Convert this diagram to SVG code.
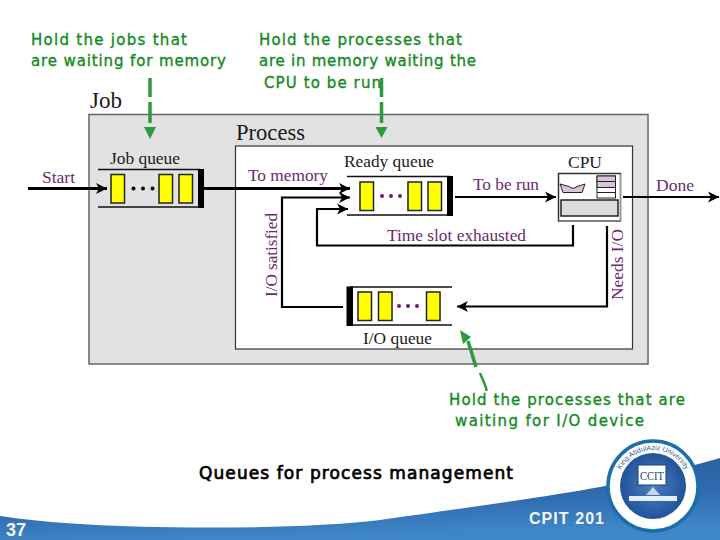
<svg xmlns="http://www.w3.org/2000/svg" width="720" height="540" viewBox="0 0 720 540">
<style>
.note{font-family:"DejaVu Sans","Liberation Sans",sans-serif;font-size:15px;fill:#128a1e;stroke:#128a1e;stroke-width:0.35}
.queues{fill:#000;stroke:#000;stroke-width:0.7;font-size:17px}
.cap{font-family:"Liberation Serif",serif;font-size:16px;fill:#1a1a1a}
.title{font-family:"Liberation Serif",serif;font-size:23px;fill:#1a1a1a}
.lab{font-family:"Liberation Serif",serif;font-size:16px;fill:#6b2a70}
.cell{fill:#ffff00;stroke:#222;stroke-width:1.5}
.rail{stroke:#111;stroke-width:1.5;fill:none}
.bar{fill:#000}
.conn{fill:none;stroke:#000;stroke-width:3;marker-end:url(#ah)}
.thin{fill:none;stroke:#000;stroke-width:2.2;marker-end:url(#ah)}
.green{fill:none;stroke:#2f993f;stroke-width:3.5}
.ghead{fill:#2f993f}
.foot{font-family:"Liberation Sans",Arial,sans-serif;font-weight:bold;fill:#f2f6fa}
</style>
<defs>
<marker id="ah" markerUnits="userSpaceOnUse" markerWidth="12" markerHeight="12" refX="11" refY="6" orient="auto">
<path d="M0,0.5 L11,6 L0,11.5 L3,6 Z" fill="#000"/>
</marker>
<linearGradient id="band" x1="0" y1="0" x2="0.25" y2="1">
<stop offset="0" stop-color="#2a5c9c"/><stop offset="0.6" stop-color="#2f6aae"/><stop offset="1" stop-color="#3f86c6"/>
</linearGradient>
<radialGradient id="disc" cx="0.5" cy="0.5" r="0.55">
<stop offset="0" stop-color="#4a7fc0"/><stop offset="1" stop-color="#1f4f96"/>
</radialGradient>
<path id="ringTop" d="M617,486 A36,36 0 0 1 689,486"/>
</defs>

<rect width="720" height="540" fill="#fff"/>
<path id="footer-band" d="M0,516 C40,522 100,527 190,527.500 C260,528 330,526 380,520 C450,510 540,498 600,487 C640,478 680,470 720,458 L720,540 L0,540 Z" fill="url(#band)"/>

<g id="job-box">
<rect x="89" y="114.500" width="559" height="249.500" fill="#e2e2e2" stroke="#666" stroke-width="1.500"/>
<text class="title" x="90" y="108" textLength="32" lengthAdjust="spacingAndGlyphs">Job</text>
</g>
<g id="process-box">
<rect x="235.500" y="146" width="397" height="203" fill="#fff" stroke="#333" stroke-width="1.200"/>
<text class="title" x="236" y="140" textLength="69" lengthAdjust="spacingAndGlyphs">Process</text>
</g>

<g id="job-queue">
<text class="cap" x="110" y="164" textLength="70" lengthAdjust="spacingAndGlyphs">Job queue</text>
<path class="rail" d="M98,169.500H200M98,207H200"/>
<rect class="bar" x="198" y="169" width="6" height="39"/>
<rect class="cell" x="111" y="174.500" width="13.500" height="28.500"/>
<rect class="cell" x="159" y="174.500" width="13.500" height="28.500"/>
<rect class="cell" x="179" y="174.500" width="13.500" height="28.500"/>
<g fill="#000"><circle cx="133.500" cy="188.500" r="2"/><circle cx="143" cy="188.500" r="2"/><circle cx="152.500" cy="188.500" r="2"/></g>
</g>

<g id="ready-queue">
<text class="cap" x="344" y="167" textLength="90" lengthAdjust="spacingAndGlyphs">Ready queue</text>
<path class="rail" d="M347,176.500H450M347,215H450"/>
<rect class="bar" x="447" y="176" width="6" height="40"/>
<rect class="cell" x="360" y="182" width="13.500" height="28.500"/>
<rect class="cell" x="408" y="182" width="13.500" height="28.500"/>
<rect class="cell" x="428" y="182" width="13.500" height="28.500"/>
<g fill="#6b1a78"><circle cx="382" cy="196" r="2"/><circle cx="391" cy="196" r="2"/><circle cx="400" cy="196" r="2"/></g>
</g>

<g id="io-queue">
<path class="rail" d="M350,287H452M350,325H452"/>
<rect class="bar" x="346.500" y="286.500" width="6.500" height="39.500"/>
<rect class="cell" x="358" y="292" width="13.500" height="28.500"/>
<rect class="cell" x="378.500" y="292" width="13.500" height="28.500"/>
<rect class="cell" x="426.500" y="292" width="13.500" height="28.500"/>
<g fill="#6b1a78"><circle cx="399" cy="306" r="2"/><circle cx="408" cy="306" r="2"/><circle cx="417" cy="306" r="2"/></g>
<text class="cap" x="363" y="344" textLength="69" lengthAdjust="spacingAndGlyphs">I/O queue</text>
</g>

<g id="cpu">
<text class="cap" x="568" y="168" style="font-size:17px" textLength="34" lengthAdjust="spacingAndGlyphs">CPU</text>
<rect x="558.500" y="173.500" width="62" height="47.500" fill="#fff" stroke="#333" stroke-width="1.500"/>
<path d="M620.500,174V221H559" fill="none" stroke="#999" stroke-width="1"/>
<rect x="561" y="200" width="57" height="16" fill="#dcdcdc" stroke="#222" stroke-width="1.500"/>
<path d="M560,184L569,186.500Q573,190 577,186.500L585,184L582,192.500H563Z" fill="#d9c3d9" stroke="#222"/>
<rect x="597" y="176" width="18.500" height="22" fill="#fff" stroke="#222"/>
<path d="M597,176h18.500v11.500h-18.500Z" fill="#d9c3d9" stroke="#222"/>
<path d="M597,181.500h18.500M597,187.500h18.500M597,192.500h18.500" stroke="#222" fill="none"/>
</g>

<g id="connectors">
<path class="conn" d="M28,188.500H107"/>
<path class="conn" d="M204,188.500H350"/>
<path class="thin" d="M343,307H282V197.500H350"/>
<path class="thin" d="M573,225V245.500H317V209H348"/>
<path class="thin" d="M455,197H556"/>
<path class="thin" d="M623,197H719"/>
<path class="thin" d="M607,226V306.500H457"/>
</g>

<g id="connector-labels">
<text class="lab" x="42" y="183" textLength="33" lengthAdjust="spacingAndGlyphs">Start</text>
<text class="lab" x="248" y="181" textLength="80" lengthAdjust="spacingAndGlyphs">To memory</text>
<text class="lab" x="473" y="190" textLength="66" lengthAdjust="spacingAndGlyphs">To be run</text>
<text class="lab" x="656" y="191" textLength="38" lengthAdjust="spacingAndGlyphs">Done</text>
<text class="lab" x="387" y="241" textLength="139" lengthAdjust="spacingAndGlyphs">Time slot exhausted</text>
<text class="lab" transform="translate(276.500,297) rotate(-90)" textLength="84" lengthAdjust="spacingAndGlyphs">I/O satisfied</text>
<text class="lab" transform="translate(623,300) rotate(-90)" textLength="71" lengthAdjust="spacingAndGlyphs">Needs I/O</text>
</g>

<g id="callout-arrows">
<path class="green" d="M150,78V97M150,102V123"/>
<path class="ghead" d="M144,127H156L150,139Z"/>
<path class="green" d="M381.500,78V97M381.500,102V123"/>
<path class="ghead" d="M375.500,127H387.500L381.500,138Z"/>
<path class="green" d="M476,367L468,341"/>
<path class="green" style="stroke-width:2.500" d="M480,373L485,385Q486.500,388 486.500,391"/>
<path class="ghead" d="M460,330L471,337L463,344Z"/>
</g>

<g id="callouts">
<text class="note" x="31" y="45" textLength="156">Hold the jobs that</text>
<text class="note" x="31" y="66" textLength="195">are waiting for memory</text>
<text class="note" x="259" y="45" textLength="203">Hold the processes that</text>
<text class="note" x="259" y="66" textLength="217">are in memory waiting the</text>
<text class="note" x="264" y="88" textLength="117">CPU to be run</text>
<text class="note" x="449" y="405" textLength="236">Hold the processes that are</text>
<text class="note" x="455" y="426" textLength="189">waiting for I/O device</text>
<text class="note queues" x="199" y="479" textLength="314">Queues for process management</text>
</g>

<g id="logo">
<circle cx="653" cy="486" r="45" fill="#fff" stroke="#1a6fa8" stroke-width="3.500"/>
<circle cx="653" cy="486" r="33" fill="url(#disc)"/>
<text font-family="Liberation Sans,sans-serif" font-size="7" fill="#2a5c9c"><textPath href="#ringTop" startOffset="50%" text-anchor="middle">King AbdulAziz University</textPath></text>
<rect x="638" y="465" width="28" height="20" fill="#fff" stroke="#16407e"/>
<text x="652" y="480" text-anchor="middle" font-family="Liberation Serif,serif" font-size="12" fill="#16407e" textLength="24" lengthAdjust="spacingAndGlyphs">CCIT</text>
<rect x="629" y="496" width="48" height="5" fill="#e8eef6"/>
<path d="M646,495l7,-8l7,8Z" fill="#c8d4e8"/>
</g>

<g id="footer-text">
<text class="foot" x="6" y="536" font-size="18">37</text>
<text class="foot" x="529" y="524" font-size="16" textLength="75">CPIT 201</text>
</g>
</svg>
